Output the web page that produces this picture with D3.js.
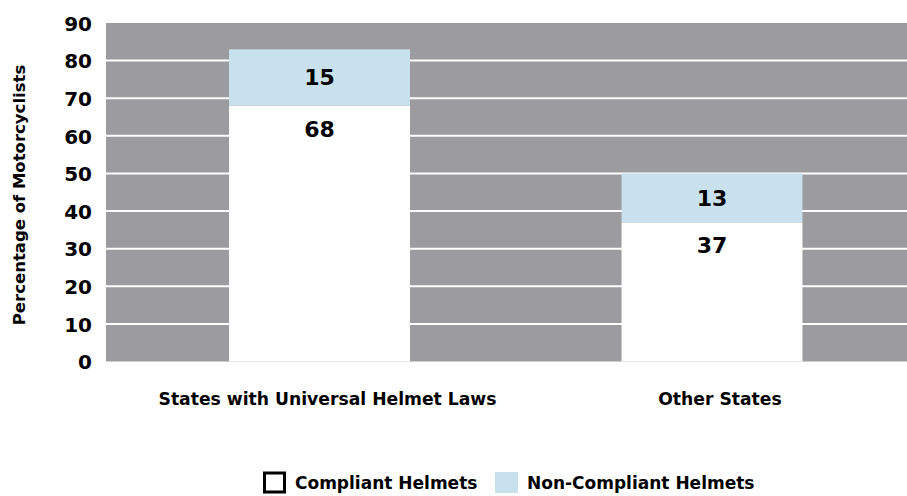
<!DOCTYPE html>
<html lang="en">
<head>
    <meta charset="UTF-8">
    <title>Helmet use</title>
    <style>
        body{
            margin:0;
            background:#fff;
        }
        text{
            font-family: "DejaVu Sans", "Liberation Sans", sans-serif;
            font-weight: bold;
            fill: #000;
        }
    </style>
    <script src="https://cdn.jsdelivr.net/npm/d3@7/dist/d3.min.js"></script>
</head>
<body>
<div id="container"></div>
<script>

var w = 907;
var h = 496;

var categories = ["States with Universal Helmet Laws", "Other States"];
var compliant = [68, 37];
var nonCompliant = [15, 13];
var yTicks = [0, 10, 20, 30, 40, 50, 60, 70, 80, 90];
var seriesNames = ["Compliant Helmets", "Non-Compliant Helmets"];

var plotLeft = 106, plotRight = 907, plotTop = 23, plotBottom = 361.5;
var gray = "#9b9ba0";
var blue = "#c8e1ec";

var svg = d3.select("#container")
        .append("svg")
        .attr("width", w)
        .attr("height", h);

var xScale = d3.scaleBand()
        .domain(categories)
        .range([123.25, 908.25])
        .paddingInner(0.539)
        .paddingOuter(0.2695);

var yScale = d3.scaleLinear()
        .domain([0, 90])
        .range([plotBottom, plotTop]);

//gray plot background
svg.append("rect")
        .attr("x", plotLeft)
        .attr("y", plotTop)
        .attr("width", plotRight - plotLeft)
        .attr("height", plotBottom - plotTop)
        .attr("fill", gray);

//gridlines
svg.selectAll("line.grid")
        .data(yTicks.filter(function(d) { return d > 0 && d < 90; }))
        .enter()
        .append("line")
        .attr("class", "grid")
        .attr("x1", plotLeft)
        .attr("x2", plotRight)
        .attr("y1", function(d) { return yScale(d); })
        .attr("y2", function(d) { return yScale(d); })
        .attr("stroke", "#fff")
        .attr("stroke-width", 2);

//y axis labels
var yAxis = d3.axisLeft(yScale)
        .tickValues(yTicks)
        .tickSize(0)
        .tickPadding(0);

var gy = svg.append("g")
        .attr("transform", "translate(92,0)")
        .call(yAxis);
gy.select(".domain").remove();
gy.selectAll("text")
        .attr("font-size", "20px")
        .attr("font-family", "'DejaVu Sans', sans-serif")
        .attr("font-weight", "bold")
        .attr("fill", "#000")
        .attr("dy", "0.36em");

svg.append("text")
        .attr("transform", "translate(25,195) rotate(-90)")
        .attr("text-anchor", "middle")
        .attr("font-size", "16.5px")
        .text("Percentage of Motorcyclists");

//compliant bars
svg.selectAll("rect.compliant")
        .data(compliant)
        .enter()
        .append("rect")
        .attr("class", "compliant")
        .attr("x", function(d, i) { return xScale(categories[i]); })
        .attr("y", function(d) { return yScale(d); })
        .attr("width", xScale.bandwidth())
        .attr("height", function(d) { return plotBottom - yScale(d); })
        .attr("fill", "#fff");

//non-compliant bars
svg.selectAll("rect.noncompliant")
        .data(nonCompliant)
        .enter()
        .append("rect")
        .attr("class", "noncompliant")
        .attr("x", function(d, i) { return xScale(categories[i]); })
        .attr("y", function(d, i) { return yScale(compliant[i] + d); })
        .attr("width", xScale.bandwidth())
        .attr("height", function(d, i) { return yScale(compliant[i]) - yScale(compliant[i] + d); })
        .attr("fill", blue);

//value labels
svg.selectAll("text.ncval")
        .data(nonCompliant)
        .enter()
        .append("text")
        .attr("class", "ncval")
        .attr("text-anchor", "middle")
        .attr("font-size", "22px")
        .attr("dy", "0.36em")
        .attr("x", function(d, i) { return xScale(categories[i]) + xScale.bandwidth() / 2; })
        .attr("y", function(d, i) { return (yScale(compliant[i] + d) + yScale(compliant[i])) / 2; })
        .text(function(d) { return d; });

svg.selectAll("text.cval")
        .data(compliant)
        .enter()
        .append("text")
        .attr("class", "cval")
        .attr("text-anchor", "middle")
        .attr("font-size", "22px")
        .attr("dy", "0.36em")
        .attr("x", function(d, i) { return xScale(categories[i]) + xScale.bandwidth() / 2; })
        .attr("y", function(d) { return yScale(d) + 23; })
        .text(function(d) { return d; });

//category labels
svg.selectAll("text.cat")
        .data(categories)
        .enter()
        .append("text")
        .attr("class", "cat")
        .attr("text-anchor", "middle")
        .attr("font-size", "17.2px")
        .attr("x", function(d) { return xScale(d) + xScale.bandwidth() / 2 + 8; })
        .attr("y", 405)
        .text(function(d) { return d; });

//legend
var legend = svg.append("g");
legend.append("rect")
        .attr("x", 264.5)
        .attr("y", 473)
        .attr("width", 20)
        .attr("height", 19)
        .attr("fill", "#fff")
        .attr("stroke", "#000")
        .attr("stroke-width", 3);
legend.append("text")
        .attr("x", 295)
        .attr("y", 489)
        .attr("font-size", "17px")
        .text(seriesNames[0]);
legend.append("rect")
        .attr("x", 495)
        .attr("y", 472)
        .attr("width", 23)
        .attr("height", 21)
        .attr("fill", blue);
legend.append("text")
        .attr("x", 527)
        .attr("y", 489)
        .attr("font-size", "17px")
        .text(seriesNames[1]);

</script>
</body>
</html>
